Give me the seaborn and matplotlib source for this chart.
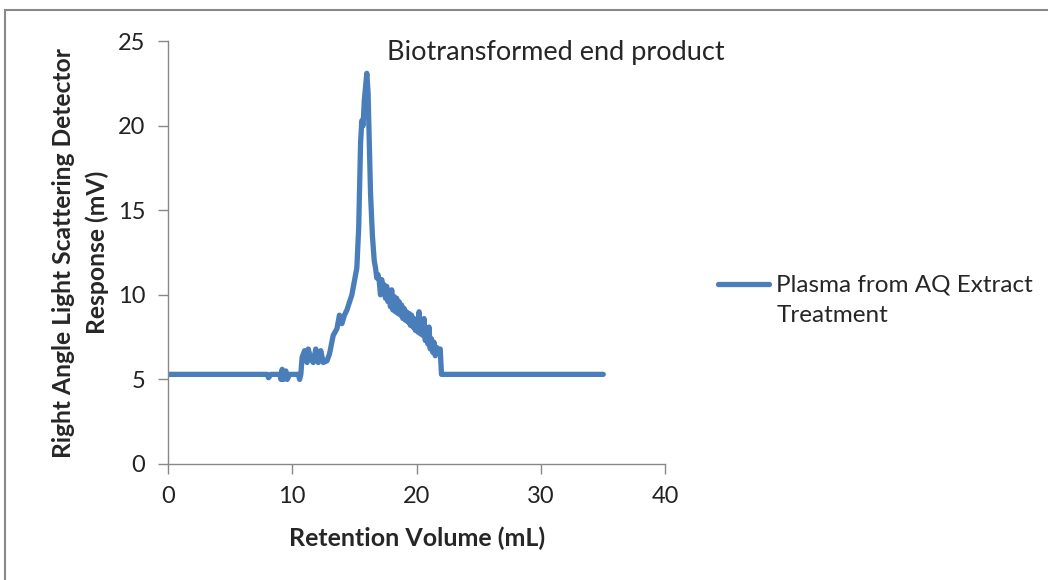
import matplotlib
matplotlib.use("Agg")
import matplotlib.pyplot as plt
import seaborn as sns
import pandas as pd
from matplotlib.patches import Rectangle

# Chromatogram trace
volume = [0.0, 8.0, 8.1, 8.3, 9.0, 9.1, 9.2, 9.3, 9.5, 9.6, 9.8, 10.5, 10.6, 10.7,
          10.8, 11.0, 11.2, 11.3, 11.5, 11.7, 11.9, 12.1, 12.3, 12.5, 12.8, 13.0,
          13.3, 13.6, 13.8, 14.0, 14.2, 14.4, 14.8, 15.0, 15.2, 15.35, 15.5, 15.6,
          15.7, 15.8, 16.0, 16.1, 16.2, 16.3, 16.45, 16.6, 16.7, 16.8, 16.9,
          17.0, 17.1, 17.2, 17.3, 17.4, 17.5, 17.6, 17.7, 17.8, 17.9,
          18.0, 18.1, 18.2, 18.3, 18.4, 18.5, 18.6, 18.7, 18.8, 18.9,
          19.0, 19.1, 19.2, 19.3, 19.4, 19.5, 19.6, 19.7, 19.8, 19.9,
          20.0, 20.1, 20.2, 20.3, 20.4, 20.5, 20.6, 20.7, 20.8, 20.9,
          21.0, 21.1, 21.2, 21.3, 21.4, 21.5, 21.6, 21.7, 21.8, 21.9,
          22.0, 35.0]
response = [5.3, 5.3, 5.1, 5.3, 5.3, 5.0, 5.6, 5.0, 5.5, 5.0, 5.3, 5.3, 5.0, 5.3,
            6.3, 6.7, 6.0, 6.8, 6.2, 6.0, 6.8, 6.0, 6.7, 6.0, 6.1, 6.5,
            7.6, 8.0, 8.8, 8.3, 8.8, 9.1, 10.0, 10.8, 11.6, 14.0, 19.0, 20.3,
            20.0, 21.5, 23.1, 22.0, 19.0, 16.0, 13.5, 12.0, 11.6, 11.0, 11.2,
            10.8, 10.0, 10.9, 10.1, 10.6, 9.8, 10.5, 9.6, 10.2, 9.3,
            10.3, 9.1, 9.9, 9.0, 9.8, 8.9, 9.6, 8.8, 9.4, 8.6,
            9.2, 8.5, 9.0, 8.4, 8.9, 8.2, 8.8, 8.1, 8.6, 7.9,
            8.4, 7.8, 9.0, 7.7, 8.4, 7.6, 8.6, 7.3, 8.0, 7.1,
            8.1, 6.8, 7.4, 6.6, 7.2, 6.4, 6.9, 6.6, 6.8, 6.8,
            5.3, 5.3]

df = pd.DataFrame({"Retention Volume (mL)": volume, "Response": response})

sns.set_style("white")
plt.rcParams['font.family'] = ['Lato', 'DejaVu Sans']

fig = plt.figure(figsize=(10.48, 5.8), dpi=100)
ax = fig.add_axes([0.160, 0.200, 0.475, 0.729])

sns.lineplot(data=df, x="Retention Volume (mL)", y="Response", ax=ax,
             color="#4a7ebb", linewidth=3.8, sort=False,
             label="Plasma from AQ Extract\nTreatment", legend=False)

ax.set_xlim(0, 40)
ax.set_ylim(0, 25)
ax.set_xticks([0, 10, 20, 30, 40])
ax.set_yticks([0, 5, 10, 15, 20, 25])
ax.tick_params(axis="both", direction="out", length=7, width=1, color="#888888",
               labelsize=17, labelcolor="#222222", pad=9, bottom=True, left=True)
for s in ["top", "right"]:
    ax.spines[s].set_visible(False)
for s in ["left", "bottom"]:
    ax.spines[s].set_color("#888888")
    ax.spines[s].set_linewidth(1)

ax.set_xlabel("Retention Volume (mL)", fontsize=18, fontweight="bold", labelpad=14)
ax.set_ylabel("Right Angle Light Scattering Detector\nResponse (mV)", fontsize=17.7,
              fontweight="bold", linespacing=1.55)
ax.yaxis.set_label_coords(-0.117, 0.5)
ax.text(0.78, 0.974, "Biotransformed end product", transform=ax.transAxes,
        ha="center", va="center", fontsize=19.5)

handles, labels = ax.get_legend_handles_labels()
leg = fig.legend(handles, labels, loc="center left", bbox_to_anchor=(0.685, 0.483),
                 frameon=False, fontsize=17.5, handlelength=2.1, handletextpad=0.3,
                 borderpad=0, borderaxespad=0)
leg.get_texts()[0].set_linespacing(1.55)
# put the legend line next to the first text line, as in the original
hl = leg.legend_handles[0]
hl.set_ydata([y + 11.5 for y in hl.get_ydata()])

fig.patches.append(Rectangle((0.005, -0.02), 1.1, 1.003, transform=fig.transFigure,
                             fill=False, edgecolor="#888888", linewidth=1.5))

fig.savefig("out.png", dpi=100)
